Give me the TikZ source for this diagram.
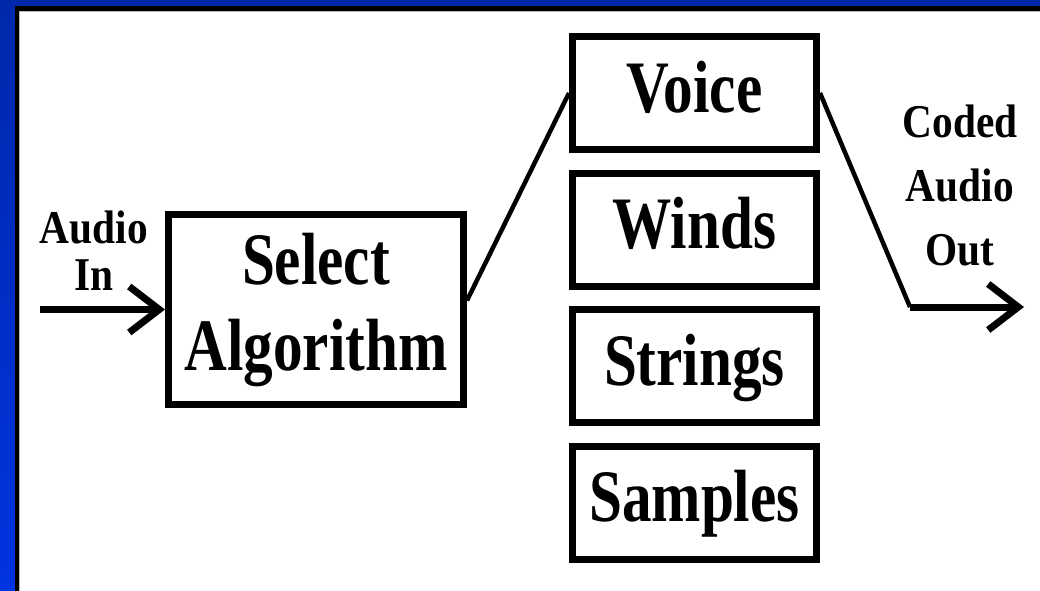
\documentclass[tikz,border=0pt]{standalone}
\usepackage{fontspec}
\setmainfont{Liberation Serif}
\newfontfamily\boxfont{Liberation Serif}[FakeStretch=0.80]
\newfontfamily\labelfont{Liberation Serif}[FakeStretch=0.88]
\usetikzlibrary{arrows.meta,calc}
\definecolor{frameblue}{RGB}{0,40,170}
\definecolor{framebluelow}{RGB}{0,52,225}

\begin{document}
\begin{tikzpicture}[x=1pt,y=-1pt,
  block/.style={draw=black, line width=7pt, fill=white, inner sep=0pt,
    font=\boxfont\bfseries\fontsize{74}{86}\selectfont, align=center},
  choice/.style={block, minimum width=244pt, minimum height=113pt,
    text height=50pt, text depth=12pt},
  tag/.style={inner sep=0pt, align=center,
    font=\labelfont\bfseries\fontsize{47}{47}\selectfont},
  wire/.style={line width=4.5pt, line join=miter},
  flow/.style={line width=7pt, -{Straight Barb[length=30pt,width=46pt]}}
]
% frame: blue surround, black rule and white panel
\useasboundingbox (0,0) rectangle (1040,590);
\shade[top color=frameblue, bottom color=framebluelow] (-5,-5) rectangle (1050,600);
\fill[black] (15,6) rectangle (1050,600);
\fill[gray!55] (19,11) rectangle (1050,600);
\fill[white] (20,12) rectangle (1050,600);

% blocks
\node[block, minimum width=295pt, minimum height=190pt] (sel) at (316,309.5) {Select\\Algorithm};
\node[choice] (voice)   at (694.5,93)    {Voice};
\node[choice] (winds)   at (694.5,229.5) {Winds};
\node[choice] (strings) at (694.5,366)   {Strings};
\node[choice] (samples) at (694.5,502.5) {Samples};

% labels
\node[tag] (ain) at (94,251) {Audio\\In};
\node[tag, font=\labelfont\bfseries\fontsize{47}{64}\selectfont] (cao) at (960,185) {Coded\\Audio\\Out};

% connectors
\coordinate (inA) at (40,309.5);
\coordinate (bend) at (910,307);
\coordinate (outA) at (1024,307);
\draw[flow] (inA) -- (sel.west);
\draw[wire] ($(sel.east)+(0,-9)$) -- (voice.west);
\draw[wire] (voice.east) -- (bend);
\draw[flow] (bend) -- (outA);
\end{tikzpicture}
\end{document}
